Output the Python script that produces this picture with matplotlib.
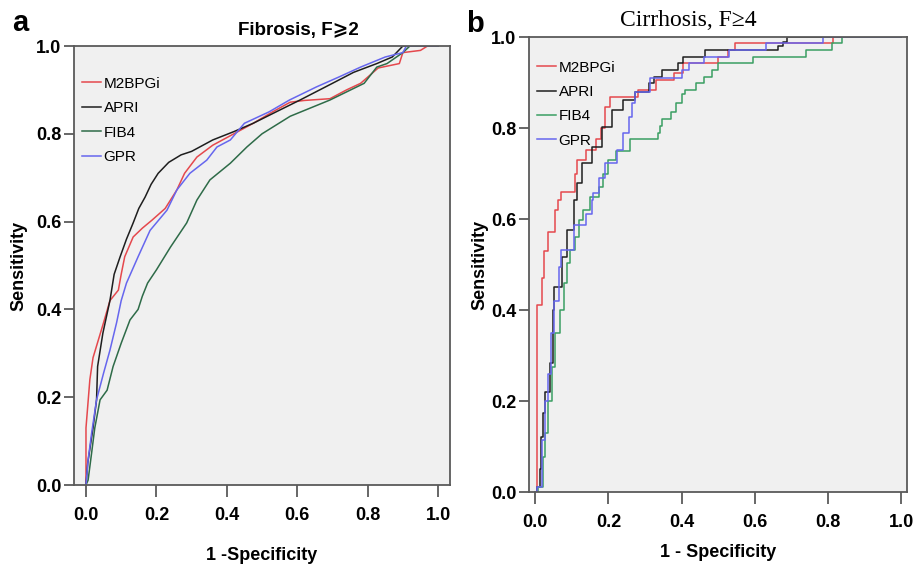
import matplotlib
matplotlib.use('Agg')
import matplotlib.pyplot as plt

# Panel a: Fibrosis F>=2
fib_m2bpgi_fpr = [0, 0.0, 0.005, 0.011, 0.02, 0.035, 0.05, 0.068, 0.092, 0.10, 0.11, 0.134, 0.16, 0.187,
                  0.225, 0.258, 0.28, 0.315, 0.36, 0.42, 0.475, 0.53, 0.58, 0.62, 0.693, 0.74, 0.78,
                  0.83, 0.89, 0.90, 0.95, 0.97, 1.0]
fib_m2bpgi_tpr = [0, 0.13, 0.18, 0.24, 0.29, 0.33, 0.37, 0.42, 0.444, 0.48, 0.52, 0.565, 0.585, 0.603,
                  0.63, 0.672, 0.71, 0.747, 0.774, 0.80, 0.824, 0.85, 0.872, 0.876, 0.88, 0.90, 0.915,
                  0.95, 0.96, 0.985, 0.99, 1.0, 1.0]

fib_apri_fpr = [0, 0.005, 0.02, 0.03, 0.033, 0.048, 0.068, 0.08, 0.097, 0.115, 0.134, 0.15, 0.168,
                0.185, 0.205, 0.235, 0.27, 0.30, 0.36, 0.42, 0.475, 0.54, 0.608, 0.70, 0.76, 0.826,
                0.87, 0.90, 1.0]
fib_apri_tpr = [0, 0.05, 0.13, 0.194, 0.27, 0.346, 0.42, 0.48, 0.52, 0.56, 0.597, 0.63, 0.656,
                0.685, 0.71, 0.735, 0.752, 0.76, 0.786, 0.805, 0.824, 0.85, 0.877, 0.915, 0.94, 0.96,
                0.975, 1.0, 1.0]

fib_fib4_fpr = [0, 0.006, 0.016, 0.025, 0.04, 0.06, 0.077, 0.10, 0.125, 0.148, 0.16, 0.175, 0.20,
                0.24, 0.286, 0.315, 0.352, 0.41, 0.457, 0.50, 0.58, 0.693, 0.79, 0.826, 0.855, 0.90,
                0.92, 1.0]
fib_fib4_tpr = [0, 0.011, 0.073, 0.13, 0.194, 0.216, 0.27, 0.323, 0.376, 0.40, 0.43, 0.46, 0.49,
                0.542, 0.597, 0.649, 0.695, 0.733, 0.77, 0.80, 0.84, 0.877, 0.915, 0.952, 0.96, 0.985,
                1.0, 1.0]

fib_gpr_fpr = [0, 0.006, 0.016, 0.03, 0.05, 0.068, 0.087, 0.10, 0.115, 0.148, 0.182, 0.23, 0.258,
               0.295, 0.343, 0.372, 0.41, 0.45, 0.52, 0.578, 0.655, 0.72, 0.78, 0.85, 0.90, 0.91, 1.0]
fib_gpr_tpr = [0, 0.057, 0.118, 0.194, 0.255, 0.307, 0.37, 0.42, 0.46, 0.52, 0.58, 0.626, 0.672,
               0.71, 0.74, 0.77, 0.786, 0.824, 0.85, 0.877, 0.907, 0.93, 0.952, 0.975, 0.985, 1.0, 1.0]

# Panel b: Cirrhosis F>=4 (step curves)
cir_m2bpgi_fpr = [0, 0.005, 0.018, 0.025, 0.035, 0.054, 0.062, 0.07, 0.108, 0.115, 0.14, 0.167, 0.18,
                  0.19, 0.205, 0.28, 0.33, 0.38, 0.404, 0.50, 0.527, 0.546, 0.814, 1.0]
cir_m2bpgi_tpr = [0, 0.41, 0.47, 0.53, 0.571, 0.62, 0.642, 0.66, 0.70, 0.73, 0.752, 0.775, 0.80,
                  0.846, 0.868, 0.884, 0.905, 0.92, 0.943, 0.957, 0.971, 0.986, 1.0, 1.0]

cir_apri_fpr = [0, 0.005, 0.012, 0.016, 0.022, 0.028, 0.04, 0.048, 0.051, 0.072, 0.087, 0.105, 0.114,
                0.128, 0.155, 0.183, 0.21, 0.24, 0.273, 0.31, 0.325, 0.346, 0.39, 0.404, 0.464,
                0.664, 0.676, 0.688, 1.0]
cir_apri_tpr = [0, 0.01, 0.05, 0.12, 0.173, 0.22, 0.283, 0.40, 0.45, 0.517, 0.576, 0.642, 0.68,
                0.723, 0.758, 0.802, 0.84, 0.862, 0.88, 0.898, 0.913, 0.927, 0.943, 0.957, 0.971,
                0.98, 0.99, 1.0, 1.0]

cir_fib4_fpr = [0, 0.008, 0.022, 0.027, 0.035, 0.045, 0.053, 0.068, 0.08, 0.088, 0.095, 0.11, 0.12,
                0.13, 0.15, 0.175, 0.185, 0.20, 0.22, 0.26, 0.335, 0.34, 0.347, 0.37, 0.385, 0.40,
                0.41, 0.44, 0.46, 0.483, 0.50, 0.595, 0.74, 0.81, 0.838, 1.0]
cir_fib4_tpr = [0, 0.01, 0.077, 0.13, 0.2, 0.275, 0.35, 0.4, 0.46, 0.503, 0.532, 0.56, 0.598,
                0.62, 0.648, 0.67, 0.70, 0.73, 0.75, 0.775, 0.79, 0.805, 0.82, 0.835, 0.855, 0.875,
                0.884, 0.90, 0.913, 0.927, 0.943, 0.957, 0.971, 0.986, 1.0, 1.0]

cir_gpr_fpr = [0, 0.005, 0.018, 0.027, 0.035, 0.043, 0.05, 0.065, 0.07, 0.105, 0.14, 0.155, 0.158,
               0.175, 0.19, 0.224, 0.24, 0.255, 0.265, 0.273, 0.314, 0.40, 0.42, 0.46, 0.53, 0.63,
               0.786, 1.0]
cir_gpr_tpr = [0, 0.01, 0.114, 0.2, 0.26, 0.35, 0.42, 0.495, 0.532, 0.587, 0.61, 0.642, 0.657,
               0.69, 0.723, 0.752, 0.789, 0.824, 0.855, 0.88, 0.91, 0.927, 0.943, 0.957, 0.971, 0.986,
               1.0, 1.0]

labels = ['M2BPGi', 'APRI', 'FIB4', 'GPR']
RED, BLACK, BLUE = '#e5484d', '#1e1e1e', '#6666ee'

SANS = ['Liberation Sans', 'DejaVu Sans']
SERIF = ['Liberation Serif', 'DejaVu Serif']
plt.rcParams['font.family'] = SANS

fig = plt.figure(figsize=(9.16, 5.66), dpi=100)
ax_a = fig.add_axes([0.0808, 0.1431, 0.4105, 0.7756])
ax_b = fig.add_axes([0.5775, 0.1307, 0.4127, 0.8039])


def style_axes(ax, xlim):
    ax.set_facecolor('#f0f0f0')
    ax.set_xlim(*xlim)
    ax.set_ylim(0, 1.0)
    ax.set_xticks([0.0, 0.2, 0.4, 0.6, 0.8, 1.0])
    ax.set_yticks([0.0, 0.2, 0.4, 0.6, 0.8, 1.0])
    ax.set_xticklabels(['0.0', '0.2', '0.4', '0.6', '0.8', '1.0'])
    ax.set_yticklabels(['0.0', '0.2', '0.4', '0.6', '0.8', '1.0'])
    for sp in ax.spines.values():
        sp.set_color('#5a5a5a')
        sp.set_linewidth(1.3)
    ax.tick_params(axis='x', length=8.5, width=1.3, color='#5a5a5a', pad=7,
                   labelsize=13)
    ax.tick_params(axis='y', length=7, width=1.3, color='#5a5a5a', pad=2,
                   labelsize=13)
    for lab in ax.get_xticklabels() + ax.get_yticklabels():
        lab.set_fontweight('bold')


# ---- panel a
ax_a.plot(fib_m2bpgi_fpr, fib_m2bpgi_tpr, color=RED, lw=1.1, label=labels[0])
ax_a.plot(fib_apri_fpr, fib_apri_tpr, color=BLACK, lw=1.1, label=labels[1])
ax_a.plot(fib_fib4_fpr, fib_fib4_tpr, color='#2e6b48', lw=1.1, label=labels[2])
ax_a.plot(fib_gpr_fpr, fib_gpr_tpr, color=BLUE, lw=1.1, label=labels[3])
style_axes(ax_a, (-0.034, 1.034))
ax_a.set_xlabel('1 -Specificity', fontsize=13, fontweight='bold', labelpad=17)
ax_a.set_ylabel('Sensitivity', fontsize=13, fontweight='bold', labelpad=6)
ax_a.legend(loc='upper left', bbox_to_anchor=(0.022, 0.93), frameon=False,
            fontsize=11, handlelength=1.2, handletextpad=0.2, labelspacing=0.68,
            borderpad=0, borderaxespad=0)
fig.text(298 / 916, 1 - 31 / 566, 'Fibrosis, F⩾2', fontsize=13.5, fontweight='bold',
         ha='center', va='center', family=SANS)
fig.text(12 / 916, 1 - 23 / 566, 'a', fontsize=21, fontweight='bold',
         ha='left', va='center')

# ---- panel b
ax_b.plot(cir_m2bpgi_fpr, cir_m2bpgi_tpr, color=RED, lw=1.1, drawstyle='steps-post',
          label=labels[0])
ax_b.plot(cir_apri_fpr, cir_apri_tpr, color=BLACK, lw=1.1, drawstyle='steps-post',
          label=labels[1])
ax_b.plot(cir_fib4_fpr, cir_fib4_tpr, color='#3a9f62', lw=1.1, drawstyle='steps-post',
          label=labels[2])
ax_b.plot(cir_gpr_fpr, cir_gpr_tpr, color=BLUE, lw=1.1, drawstyle='steps-post',
          label=labels[3])
style_axes(ax_b, (-0.017, 1.016))
ax_b.set_xlabel('1 - Specificity', fontsize=13, fontweight='bold', labelpad=10)
ax_b.set_ylabel('Sensitivity', fontsize=13, fontweight='bold', labelpad=2)
ax_b.legend(loc='upper left', bbox_to_anchor=(0.022, 0.948), frameon=False,
            fontsize=11, handlelength=1.2, handletextpad=0.2, labelspacing=0.68,
            borderpad=0, borderaxespad=0)
fig.text(688 / 916, 1 - 21 / 566, 'Cirrhosis, F≥4', fontsize=17,
         ha='center', va='center', family=SERIF)
fig.text(466 / 916, 1 - 24 / 566, 'b', fontsize=21, fontweight='bold',
         ha='left', va='center')

fig.savefig('out.png', dpi=100)
